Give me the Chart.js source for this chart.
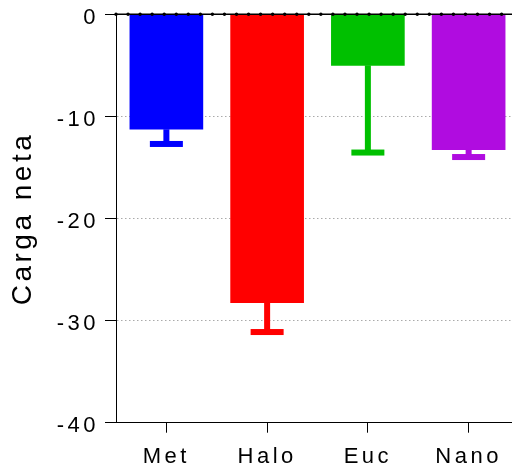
<!DOCTYPE html>
<html>
<head>
<meta charset="utf-8">
<script src="https://cdn.jsdelivr.net/npm/chart.js@4.4.0/dist/chart.umd.min.js"></script>
<style>
  html, body { margin: 0; padding: 0; background: #fff; overflow: hidden; }
  #wrap { width: 512px; height: 469px; overflow: hidden; }
</style>
</head>
<body>
<div id="wrap"><canvas id="barChart" width="530" height="469"></canvas></div>
<script>
// ---data---
var categories = ["Met", "Halo", "Euc", "Nano"];
var meanValues = [-11.26, -28.25, -5.0, -13.26];
var errValues = [1.44, 2.87, 8.54, 0.72];
var barColors = ["#0000ff", "#ff0000", "#00c000", "#b00ce0"];
var yTicks = [0, -10, -20, -30, -40];

var fontFamily = "'Liberation Sans', Arial, sans-serif";

// ---letter spacing, zero line and error bars---
function setSpacing(chart) {
  chart.ctx.letterSpacing = "3.5px";
}

var extras = {
  id: "extras",
  beforeUpdate: setSpacing,
  beforeLayout: setSpacing,
  beforeDraw: setSpacing,
  afterDatasetsDraw: function (chart) {
    var ctx = chart.ctx;
    var y = chart.scales.y;
    var area = chart.chartArea;
    var meta = chart.getDatasetMeta(0);

    ctx.save();
    meta.data.forEach(function (bar, i) {
      var top = y.getPixelForValue(meanValues[i]);
      var end = y.getPixelForValue(meanValues[i] - errValues[i]);
      ctx.fillStyle = barColors[i];
      ctx.fillRect(bar.x - 3, top, 6, end - top);
      ctx.fillRect(bar.x - 16.5, end - 3, 33, 6);
    });

    var y0 = y.getPixelForValue(0);
    ctx.strokeStyle = "#000";
    ctx.lineWidth = 1.5;
    ctx.beginPath();
    ctx.moveTo(area.left, y0);
    ctx.lineTo(area.right, y0);
    ctx.stroke();
    ctx.fillStyle = "#000";
    for (var x = area.left; x <= area.right; x += 12.05) {
      ctx.beginPath();
      ctx.arc(x, y0, 1.7, 0, 2 * Math.PI);
      ctx.fill();
    }
    ctx.restore();
  },
};

var ctxB = document.getElementById("barChart").getContext("2d");
var myBarChart = new Chart(ctxB, {
  type: "bar",
  data: {
    labels: categories,
    datasets: [
      {
        data: meanValues,
        backgroundColor: barColors,
        borderWidth: 0,
        barThickness: 73,
      },
    ],
  },
  options: {
    responsive: false,
    animation: false,
    events: [],
    layout: { padding: { top: 14.3, right: 11, bottom: 0, left: 0 } },
    plugins: {
      legend: { display: false },
      tooltip: { enabled: false },
    },
    scales: {
      x: {
        grid: {
          offset: false,
          drawOnChartArea: false,
          tickLength: 10,
          tickColor: "#000",
          tickWidth: 1,
        },
        border: { color: "#000", width: 1 },
        ticks: {
          color: "#000",
          padding: 11,
          font: { family: fontFamily, size: 22 },
        },
        afterFit: function (scale) {
          scale.height = 46.3;
          scale.paddingLeft = 0;
          scale.paddingRight = 0;
        },
      },
      y: {
        min: -40,
        max: 0,
        afterBuildTicks: function (scale) {
          scale.ticks = yTicks.map(function (v) {
            return { value: v };
          });
        },
        grid: {
          color: function (c) {
            if (c.tick && (c.tick.value === 0 || c.tick.value === -40)) {
              return "rgba(0,0,0,0)";
            }
            return "#aaaaaa";
          },
          tickColor: "#000",
          tickWidth: 1,
          tickLength: 11,
        },
        border: { color: "#000", width: 1, dash: [1.5, 2.5] },
        ticks: {
          color: "#000",
          padding: 6,
          labelOffset: 3.5,
          font: { family: fontFamily, size: 22 },
        },
        title: {
          display: true,
          text: "Carga neta",
          color: "#000",
          padding: { top: 6, bottom: 0 },
          font: { family: fontFamily, size: 28 },
        },
        afterFit: function (scale) {
          scale.width = 116;
          scale.paddingTop = 0;
          scale.paddingBottom = 0;
        },
      },
    },
  },
  plugins: [extras],
});
</script>
</body>
</html>
